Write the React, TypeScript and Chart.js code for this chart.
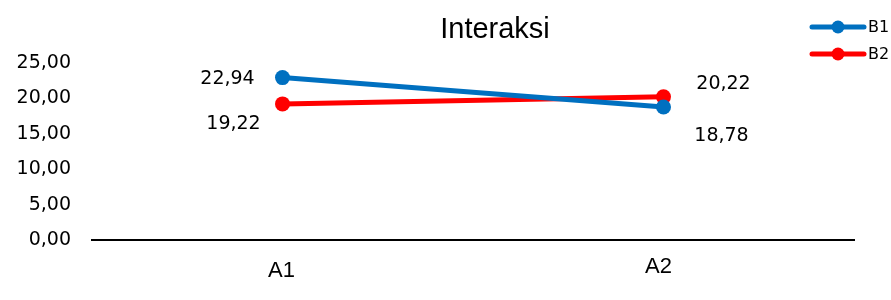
import React, { useEffect, useRef } from "react";
import { Chart, registerables } from "chart.js";

Chart.register(...registerables);

const categories = ["A1", "A2"];
const seriesNames = ["B1", "B2"];
const b1Values = [22.94, 18.78];
const b2Values = [19.22, 20.22];
const yTicks = [0, 5, 10, 15, 20, 25];
const titleText = "Interaksi";

const colors = ["#0070C0", "#FF0000"];
// label offsets relative to each point (style, not data)
const labelOffsets = [
  [[-55, 1], [58, 29]],
  [[-49, 20], [60, -13]],
];
// category label offsets (dx, baseline below axis)
const catLabelOffsets = [[-1, 37], [-5, 33]];

const numFont = "'DejaVu Sans', 'Noto Sans', sans-serif";
const arialFont = "'Liberation Sans', Arial, sans-serif";

const fmt = (v: number) => v.toFixed(2).replace(".", ",");

const overlayPlugin = {
  id: "overlay",
  afterDatasetsDraw(chart: any) {
    const ctx = chart.ctx;
    ctx.save();
    // title
    ctx.fillStyle = "#000";
    ctx.font = `29px ${arialFont}`;
    ctx.textAlign = "center";
    ctx.textBaseline = "alphabetic";
    ctx.fillText(titleText, 495, 38);
    // category labels
    const xs = chart.scales.x;
    const axisY = chart.chartArea.bottom;
    ctx.font = `22px ${arialFont}`;
    chart.data.labels.forEach((lab: string, i: number) => {
      const [dx, dy] = catLabelOffsets[i];
      ctx.fillText(lab, xs.getPixelForValue(i) + dx, axisY + dy);
    });
    // data labels
    ctx.textBaseline = "middle";
    ctx.font = `19px ${numFont}`;
    chart.data.datasets.forEach((ds: any, di: number) => {
      const meta = chart.getDatasetMeta(di);
      meta.data.forEach((pt: any, i: number) => {
        const [dx, dy] = labelOffsets[di][i];
        ctx.fillText(fmt(ds.data[i]), pt.x + dx, pt.y + dy);
      });
    });
    // legend
    chart.data.datasets.forEach((ds: any, di: number) => {
      const y = 27 + di * 27;
      ctx.strokeStyle = ds.borderColor;
      ctx.lineWidth = 5;
      ctx.lineCap = "round";
      ctx.beginPath();
      ctx.moveTo(812, y);
      ctx.lineTo(864, y);
      ctx.stroke();
      ctx.fillStyle = ds.borderColor;
      ctx.beginPath();
      ctx.arc(838, y, 6.5, 0, Math.PI * 2);
      ctx.fill();
      ctx.fillStyle = "#000";
      ctx.font = `16px ${numFont}`;
      ctx.textAlign = "left";
      ctx.fillText(ds.label, 868, y + 1);
    });
    ctx.restore();
  },
};

export default function App() {
  const ref = useRef<HTMLCanvasElement>(null);
  useEffect(() => {
    if (!ref.current) return;
    const chart = new Chart(ref.current, {
      type: "line",
      data: {
        labels: categories,
        datasets: [b1Values, b2Values].map((vals, i) => ({
          label: seriesNames[i],
          data: vals,
          borderColor: colors[i],
          backgroundColor: colors[i],
          borderWidth: 5,
          pointRadius: 7.5,
          pointBackgroundColor: colors[i],
          pointBorderWidth: 0,
          tension: 0,
        })),
      },
      options: {
        animation: false,
        responsive: false,
        layout: { padding: { top: 63, right: 37, left: 0, bottom: 0 } },
        plugins: { legend: { display: false }, title: { display: false }, tooltip: { enabled: false } },
        scales: {
          x: {
            offset: true,
            grid: { display: false, drawTicks: false },
            border: { display: true, color: "#000", width: 2 },
            ticks: { display: false },
            afterFit: (s: any) => { s.height = 60; },
          },
          y: {
            min: 0,
            max: 25,
            afterBuildTicks: (s: any) => { s.ticks = yTicks.map((v) => ({ value: v })); },
            grid: { display: false, drawTicks: false },
            border: { display: false },
            ticks: {
              color: "#000",
              padding: 21,
              font: { family: numFont, size: 19 },
              callback: (v: any) => fmt(Number(v)),
            },
            afterFit: (s: any) => { s.width = 92; },
          },
        },
      },
      plugins: [overlayPlugin],
    });
    return () => chart.destroy();
  }, []);
  return (
    <div style={{ position: "fixed", left: 0, top: 0, width: 891, height: 300, background: "#fff" }}>
      <canvas ref={ref} width={891} height={300} />
    </div>
  );
}
